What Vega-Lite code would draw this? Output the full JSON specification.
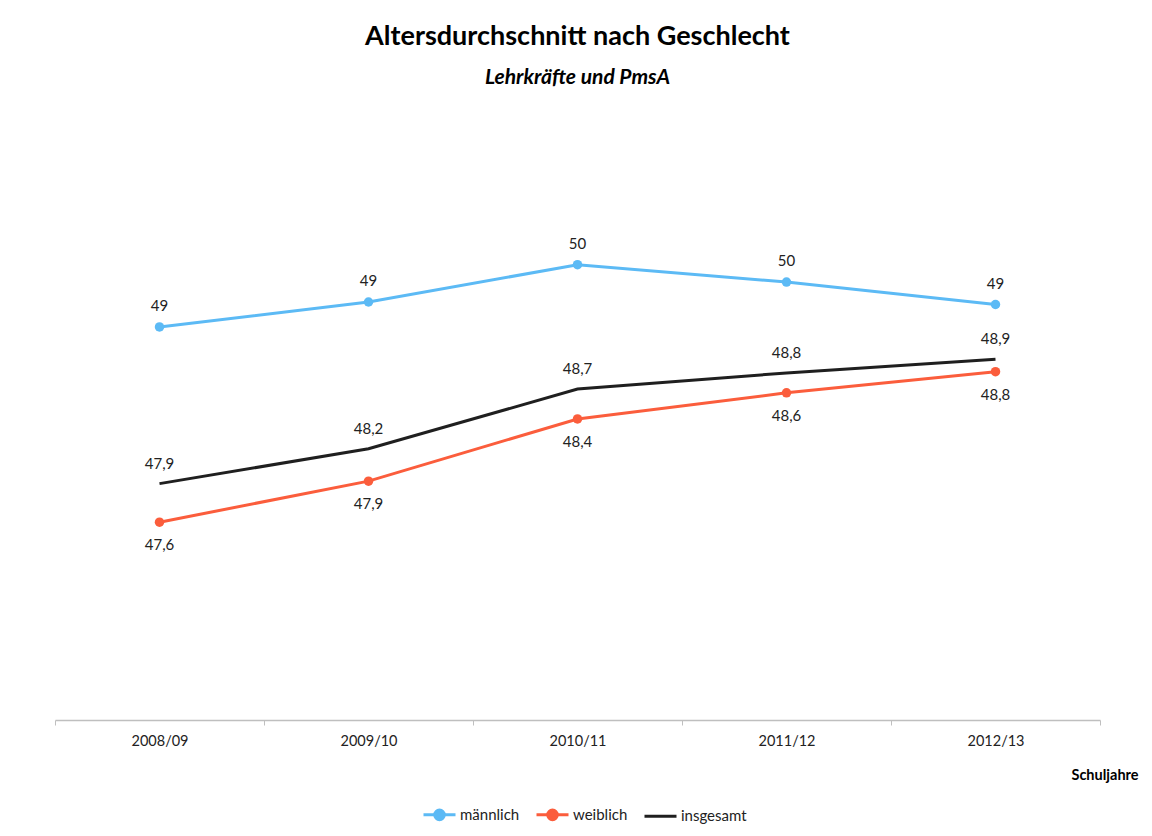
{
  "$schema": "https://vega.github.io/schema/vega-lite/v6.json",
  "width": 1045,
  "height": 622,
  "autosize": "none",
  "padding": {"left": 55, "top": 98, "right": 52, "bottom": 116},
  "background": "white",
  "config": {"font": "Lato", "view": {"stroke": null}},
  "title": {
    "text": "Altersdurchschnitt nach Geschlecht",
    "subtitle": "Lehrkräfte und PmsA",
    "anchor": "middle",
    "font": "Lato",
    "fontSize": 27,
    "fontWeight": "bold",
    "color": "#000000",
    "subtitleFont": "Lato",
    "subtitleFontSize": 21,
    "subtitleFontWeight": "bold",
    "subtitleFontStyle": "italic",
    "subtitleColor": "#000000",
    "subtitlePadding": 16,
    "offset": 9
  },
  "data": {
    "values": [
      {"Schuljahr": "2008/09", "Geschlecht": "männlich", "Alter": 49.16},
      {"Schuljahr": "2009/10", "Geschlecht": "männlich", "Alter": 49.36},
      {"Schuljahr": "2010/11", "Geschlecht": "männlich", "Alter": 49.66},
      {"Schuljahr": "2011/12", "Geschlecht": "männlich", "Alter": 49.52},
      {"Schuljahr": "2012/13", "Geschlecht": "männlich", "Alter": 49.34},
      {"Schuljahr": "2008/09", "Geschlecht": "weiblich", "Alter": 47.59},
      {"Schuljahr": "2009/10", "Geschlecht": "weiblich", "Alter": 47.92},
      {"Schuljahr": "2010/11", "Geschlecht": "weiblich", "Alter": 48.42},
      {"Schuljahr": "2011/12", "Geschlecht": "weiblich", "Alter": 48.63},
      {"Schuljahr": "2012/13", "Geschlecht": "weiblich", "Alter": 48.8},
      {"Schuljahr": "2008/09", "Geschlecht": "insgesamt", "Alter": 47.9},
      {"Schuljahr": "2009/10", "Geschlecht": "insgesamt", "Alter": 48.18},
      {"Schuljahr": "2010/11", "Geschlecht": "insgesamt", "Alter": 48.66},
      {"Schuljahr": "2011/12", "Geschlecht": "insgesamt", "Alter": 48.79},
      {"Schuljahr": "2012/13", "Geschlecht": "insgesamt", "Alter": 48.9}
    ]
  },
  "transform": [
    {"calculate": "replace(format(datum.Alter, datum.Geschlecht === 'männlich' ? '.0f' : '.1f'), '.', ',')", "as": "Label"}
  ],
  "encoding": {
    "x": {
      "field": "Schuljahr",
      "type": "nominal",
      "sort": null,
      "scale": {"type": "band", "paddingInner": 0, "paddingOuter": 0},
      "axis": {
        "title": "Schuljahre",
        "titleFont": "Lato",
        "titleFontSize": 14.5,
        "titleFontWeight": "bold",
        "titleColor": "#000000",
        "titleAlign": "right",
        "titleAnchor": null,
        "titleBaseline": "alphabetic",
        "titleX": 1083,
        "titleY": 59,
        "labelAngle": 0,
        "labelFont": "Lato",
        "labelFontSize": 14.5,
        "labelColor": "#222222",
        "labelPadding": 9,
        "domainColor": "#bfbfbf",
        "domainWidth": 1.5,
        "tickColor": "#bfbfbf",
        "tickSize": 5,
        "tickBand": "extent",
        "grid": false
      }
    },
    "y": {
      "field": "Alter",
      "type": "quantitative",
      "scale": {"domain": [46, 51], "zero": false, "nice": false},
      "axis": null
    }
  },
  "layer": [
    {
      "mark": {"type": "line", "strokeWidth": 3},
      "encoding": {
        "color": {
          "field": "Geschlecht",
          "type": "nominal",
          "scale": {"domain": ["männlich", "weiblich", "insgesamt"], "range": ["#5cbaf5", "#fb5d3c", "#1f1f1f"]},
          "legend": {
            "title": null,
            "orient": "none",
            "direction": "horizontal",
            "legendX": 367,
            "legendY": 699,
            "padding": 0,
            "labelFont": "Lato",
            "labelFontSize": 15,
            "labelColor": "#222222",
            "labelOffset": 3,
            "columnPadding": 10,
            "symbolSize": 1024,
            "symbolStrokeWidth": 3,
            "encode": {
              "symbols": {
                "update": {
                  "shape": {"signal": "datum.value === 'insgesamt' ? 'M-1,0L1,0' : 'M-1,0L1,0M-0.3,0A0.3,0.3,0,1,1,0.3,0A0.3,0.3,0,1,1,-0.3,0Z'"},
                  "fill": {"signal": "datum.value === 'insgesamt' ? 'transparent' : scale('color', datum.value)"},
                  "fillOpacity": {"value": 1},
                  "strokeWidth": {"value": 3}
                }
              }
            }
          }
        }
      }
    },
    {
      "transform": [{"filter": "datum.Geschlecht !== 'insgesamt'"}],
      "mark": {"type": "point", "filled": true, "size": 90, "opacity": 1},
      "encoding": {
        "color": {"field": "Geschlecht", "type": "nominal", "legend": null}
      }
    },
    {
      "transform": [{"filter": "datum.Geschlecht === 'männlich'"}],
      "mark": {"type": "text", "dy": -21, "baseline": "middle", "font": "Lato", "fontSize": 15, "color": "#222222"},
      "encoding": {"text": {"field": "Label"}}
    },
    {
      "transform": [{"filter": "datum.Geschlecht === 'weiblich'"}],
      "mark": {"type": "text", "dy": 23, "baseline": "middle", "font": "Lato", "fontSize": 15, "color": "#222222"},
      "encoding": {"text": {"field": "Label"}}
    },
    {
      "transform": [{"filter": "datum.Geschlecht === 'insgesamt'"}],
      "mark": {"type": "text", "dy": -20, "baseline": "middle", "font": "Lato", "fontSize": 15, "color": "#222222"},
      "encoding": {"text": {"field": "Label"}}
    }
  ]
}
